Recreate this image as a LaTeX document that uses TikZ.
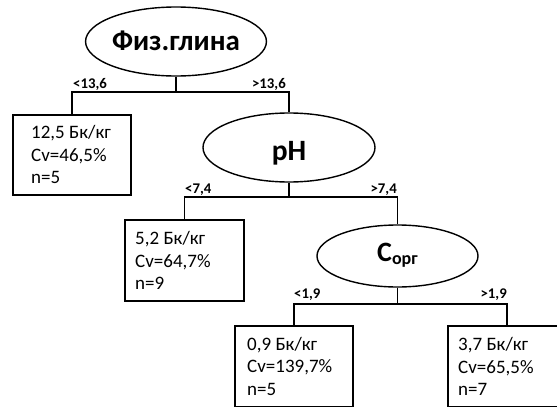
\documentclass[tikz,border=0pt]{standalone}
\usepackage{fontspec}
\setmainfont{Carlito}
\usetikzlibrary{shapes.geometric}
\begin{document}
\begin{tikzpicture}[x=1pt,y=-1pt,
  oval/.style={draw, ellipse, line width=1.4pt, inner sep=0pt, text depth=0pt},
  leaf/.style={draw, rectangle, line width=1.8pt, anchor=north west, minimum height=81pt, minimum width=118pt, inner sep=0pt},
  leaftext/.style={anchor=west, align=left, inner sep=0pt, font=\fontsize{19}{22.5}\selectfont},
  conn/.style={line width=1.3pt},
  lab/.style={font=\bfseries\fontsize{14.8}{15}\selectfont, inner sep=0pt}]
\useasboundingbox (0,0) rectangle (557,407);

% decision nodes
\node[oval, minimum width=162pt, minimum height=69pt, text height=17.5pt, font=\bfseries\fontsize{29}{30}\selectfont] (t) at (176,41.5) {Физ.глина};
\node[oval, minimum width=172pt, minimum height=69pt, text height=25pt, font=\bfseries\fontsize{29.5}{30}\selectfont] (ph) at (289,147.5) {pH};
\node[oval, minimum width=161pt, minimum height=62pt, text height=11.4pt, font=\bfseries\fontsize{28}{30}\selectfont] (c) at (397.5,256) {C\raisebox{-3pt}{\fontsize{18}{18}\selectfont орг}};

% leaves
\node[leaf, minimum height=80pt] (b1) at (12,114) {};
\node[leaftext] at ([xshift=19pt]b1.west) {12,5 Бк/кг\\Cv=46,5\%\\n=5};
\node[leaf, minimum width=119pt] (b2) at (124,219) {};
\node[leaftext] at ([xshift=11pt]b2.west) {5,2 Бк/кг\\Cv=64,7\%\\n=9};
\node[leaf] (b3) at (234,325) {};
\node[leaftext] at ([xshift=13pt]b3.west) {0,9 Бк/кг\\Cv=139,7\%\\n=5};
\node[leaf] (b4) at (447,325) {};
\node[leaftext] at ([xshift=11pt]b4.west) {3,7 Бк/кг\\Cv=65,5\%\\n=7};

% connectors
\coordinate (L1) at (177,92);
\coordinate (L2) at (290,197);
\coordinate (L3) at (400,304);
\draw[conn] (t.south) -- (t.south |- L1);
\draw[conn] (b1.north) |- (L1) -| (ph.north);
\draw[conn] (ph.south) -- (ph.south |- L2);
\draw[conn] (b2.north) |- (L2) -| (c.north);
\draw[conn] (c.south) -- (c.south |- L3);
\draw[conn] (b3.north) |- (L3) -| (b4.north);

% split labels
\node[lab, anchor=base west] at (73,88.5) {<13,6};
\node[lab, anchor=base east] at (286,88.5) {>13,6};
\node[lab, anchor=base west] at (185,193) {<7,4};
\node[lab, anchor=base east] at (397,193) {>7,4};
\node[lab, anchor=base west] at (294,298.5) {<1,9};
\node[lab, anchor=base east] at (507,298.5) {>1,9};
\end{tikzpicture}
\end{document}
